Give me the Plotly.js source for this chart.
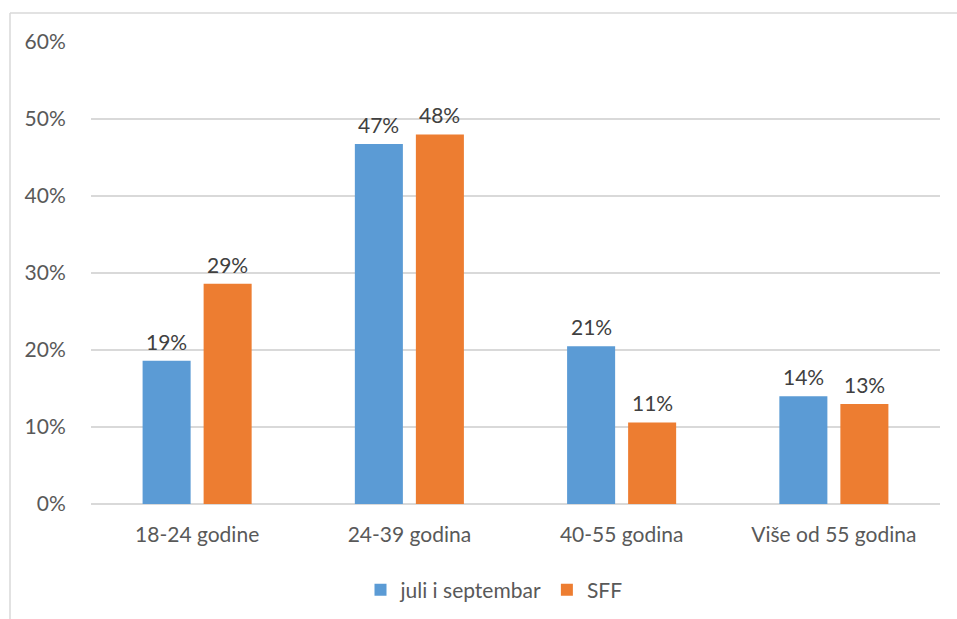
<!DOCTYPE html>
<html><head><meta charset="utf-8">
<script src="https://cdn.plot.ly/plotly-3.0.1.min.js"></script>
<style>html,body{margin:0;padding:0;background:#fff}#chart{width:957px;height:619px}</style>
</head><body><div id="chart"></div>
<script>
const categories = ["18-24 godine", "24-39 godina", "40-55 godina", "Više od 55 godina"];
const seriesNames = ["juli i septembar", "SFF"];
const juliSeptembar = [0.186, 0.4675, 0.205, 0.140];
const sff = [0.286, 0.480, 0.106, 0.130];
const colors = ["#5B9BD5", "#ED7D31"];

const W = 957, H = 619;
const m = {l: 91, r: 17, t: 42, b: 115};
const pw = W - m.l - m.r, ph = H - m.t - m.b;
const px = v => (v - m.l) / pw;
const py = v => (H - m.b - v) / ph;

const fontFam = "Lato, 'Open Sans', sans-serif";
const FS = 21;
function pct(v){ return Math.round(v*100) + "%"; }

const bargap = 0.425, bargroupgap = 0.213;
const slot = (1 - bargap) / 2;

const allSeries = [juliSeptembar, sff];
const traces = allSeries.map((vals, i) => ({
  type: "bar",
  name: seriesNames[i],
  x: categories,
  y: vals,
  marker: {color: colors[i]},
  hoverinfo: "skip"
}));

const annotations = [];
allSeries.forEach((vals, i) => {
  vals.forEach((v, j) => {
    annotations.push({
      xref: "x", yref: "y",
      x: j + (i - 0.5) * slot,
      y: v,
      text: pct(v),
      showarrow: false,
      yanchor: "bottom",
      yshift: 5,
      font: {family: fontFam, size: FS, color: "#404040"}
    });
  });
});

const layout = {
  width: W, height: H,
  margin: m,
  paper_bgcolor: "#fff", plot_bgcolor: "#fff",
  barmode: "group",
  bargap: bargap,
  bargroupgap: bargroupgap,
  font: {family: fontFam, size: FS, color: "#595959"},
  xaxis: {
    type: "category",
    showgrid: false, zeroline: false, showline: false,
    ticks: "outside", ticklen: 12, tickcolor: "rgba(0,0,0,0)",
    tickfont: {family: fontFam, size: FS, color: "#595959"}
  },
  yaxis: {
    range: [0, 0.6],
    dtick: 0.1,
    tickformat: ".0%",
    showgrid: true, gridcolor: "#D9D9D9", gridwidth: 1.3,
    zeroline: true, zerolinecolor: "#D9D9D9", zerolinewidth: 1.3,
    showline: false,
    ticks: "outside", ticklen: 20, tickcolor: "rgba(0,0,0,0)",
    tickfont: {family: fontFam, size: FS, color: "#595959"}
  },
  annotations: annotations,
  showlegend: true,
  legend: {
    orientation: "h",
    xref: "container", yref: "container",
    x: 494 / W, xanchor: "center",
    y: 1 - 590 / H, yanchor: "middle",
    font: {family: fontFam, size: FS, color: "#595959"},
    itemwidth: 30,
    tracegroupgap: 0
  },
  shapes: [
    {type: "line", xref: "paper", yref: "paper", x0: px(10), x1: px(960), y0: py(13), y1: py(13), line: {color: "#D9D9D9", width: 1.5}},
    {type: "line", xref: "paper", yref: "paper", x0: px(10), x1: px(10), y0: py(13), y1: py(622), line: {color: "#D9D9D9", width: 1.5}}
  ]
};

Plotly.newPlot("chart", traces, layout, {displayModeBar: false, staticPlot: true});
</script></body></html>
